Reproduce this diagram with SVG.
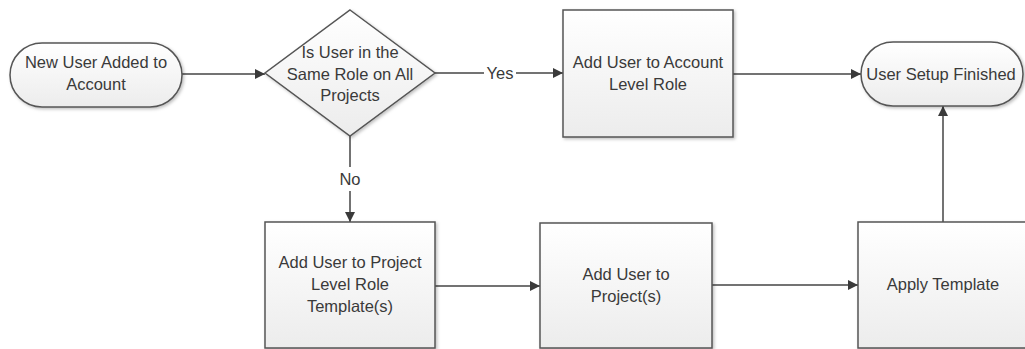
<svg xmlns="http://www.w3.org/2000/svg" width="1025" height="349" viewBox="0 0 1025 349">
<defs>
<linearGradient id="g" x1="0" y1="0" x2="0" y2="1">
<stop offset="0" stop-color="#ffffff"/>
<stop offset="1" stop-color="#ececec"/>
</linearGradient>
<filter id="sh" x="-10%" y="-10%" width="130%" height="130%">
<feDropShadow dx="1.5" dy="1.5" stdDeviation="1.5" flood-color="#000" flood-opacity="0.25"/>
</filter>
<marker id="ah" viewBox="0 0 10 10" refX="10" refY="5" markerWidth="10" markerHeight="10" markerUnits="userSpaceOnUse" orient="auto">
<path d="M0,0 L10,5 L0,10 z" fill="#3a3a3a"/>
</marker>
<style>
.shape{fill:url(#g);stroke:#555;stroke-width:1.5;filter:url(#sh)}
text{font-family:"Liberation Sans",Arial,sans-serif;font-size:16.5px;fill:#3a3a3a;text-anchor:middle}
.c{fill:none;stroke:#444;stroke-width:1.5}
.a{marker-end:url(#ah)}
</style>
</defs>
<rect width="1025" height="349" fill="#fff"/>
<g id="connectors">
<line class="c a" x1="182" y1="74" x2="265" y2="74"/>
<line class="c" x1="435" y1="73" x2="484" y2="73"/>
<line class="c a" x1="516" y1="73" x2="563" y2="73"/>
<line class="c a" x1="733" y1="74" x2="861" y2="74"/>
<line class="c" x1="350" y1="136" x2="350" y2="167"/>
<line class="c a" x1="350" y1="191" x2="350" y2="222"/>
<line class="c a" x1="435" y1="286" x2="540" y2="286"/>
<line class="c a" x1="712" y1="285" x2="858" y2="285"/>
<line class="c a" x1="943" y1="222" x2="943" y2="106"/>
<text x="500" y="79">Yes</text>
<text x="350" y="185">No</text>
</g>
<g id="start">
<rect class="shape" x="10" y="43" width="172" height="64" rx="32" ry="32"/>
<text x="96" y="68">New User Added to</text>
<text x="96" y="90">Account</text>
</g>
<g id="decision">
<polygon class="shape" points="350,10 435,73 350,136 265,73"/>
<text x="350" y="58">Is User in the</text>
<text x="350" y="80">Same Role on All</text>
<text x="350" y="101">Projects</text>
</g>
<g id="account-role">
<rect class="shape" x="563" y="10" width="170" height="127"/>
<text x="648" y="68">Add User to Account</text>
<text x="648" y="90">Level Role</text>
</g>
<g id="end">
<rect class="shape" x="861" y="42" width="162" height="64" rx="32" ry="32"/>
<text x="941" y="80">User Setup Finished</text>
</g>
<g id="project-role">
<rect class="shape" x="265" y="222" width="170" height="126"/>
<text x="350" y="268">Add User to Project</text>
<text x="350" y="290">Level Role</text>
<text x="350" y="312">Template(s)</text>
</g>
<g id="add-project">
<rect class="shape" x="540" y="223" width="172" height="125"/>
<text x="626" y="280">Add User to</text>
<text x="626" y="302">Project(s)</text>
</g>
<g id="apply">
<rect class="shape" x="858" y="222" width="170" height="126"/>
<text x="943" y="290">Apply Template</text>
</g>
</svg>
